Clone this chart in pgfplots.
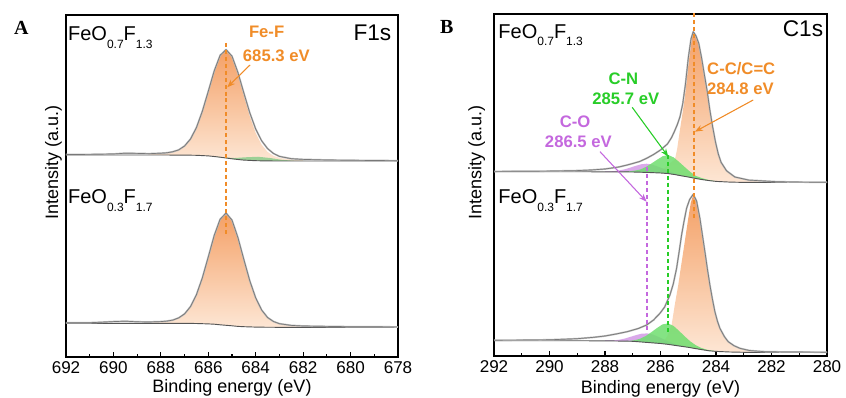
\documentclass[border=0pt]{standalone}
\usepackage{fontspec}
\setmainfont{Liberation Sans}
\newfontfamily\lserif{Liberation Serif}
\usepackage{pgfplots}
\pgfplotsset{compat=1.18}
\usetikzlibrary{arrows.meta}
\definecolor{orT}{RGB}{244,160,102}
\definecolor{orB}{RGB}{253,230,212}
\definecolor{grF}{RGB}{110,222,110}
\definecolor{grFA}{RGB}{140,205,140}
\definecolor{puF}{RGB}{214,160,232}
\definecolor{orTx}{RGB}{240,140,40}
\definecolor{grTx}{RGB}{40,205,40}
\definecolor{puTx}{RGB}{196,104,222}
\definecolor{envL}{RGB}{185,185,185}
\definecolor{envD}{RGB}{120,120,120}
\definecolor{bgL}{RGB}{85,85,85}
\newcommand{\fsz}[1]{\fontsize{#1}{#1}\selectfont}
\newcommand{\sub}[1]{\raisebox{-5.5pt}{\fsz{9}#1}}
\tikzset{lab/.style={font=\bfseries\fsz{12.5}}}
\pgfplotsset{
  xpsax/.style={scale only axis, height=256.5pt, ymin=0, ymax=342, x dir=reverse,
    xtick distance=2, minor x tick num=1, tick align=inside, xtick pos=bottom, ytick=\empty,
    axis line style={line width=0.9pt}, major tick length=4pt, minor tick length=2.5pt,
    every tick/.style={black, line width=0.8pt},
    /pgf/number format/assume math mode=true,
    ticklabel style={font=\fsz{12.8}},
    xticklabel style={inner sep=2pt, yshift=-1.5pt},
    xlabel={Binding energy (eV)}, ylabel={Intensity (a.u.)}, clip=false},
  envelope/.style={line width=1.3pt, envL, line join=round},
  fitline/.style={line width=0.5pt, envD, line join=round},
  bgline/.style={line width=0.7pt, bgL},
  dsh/.style={line width=1.2pt, dash pattern=on 3pt off 2.2pt},
  arr/.style={line width=0.8pt, -{Stealth[length=6pt,width=4.5pt]}}
}
\begin{document}
\begin{tikzpicture}
\useasboundingbox (0,0) rectangle (634.5pt,-298.5pt);
% ---------------- Panel A ----------------
\begin{axis}[xpsax, at={(49.5pt,-267.75pt)}, anchor=south west, width=249pt,
  xmin=678, xmax=692,
  every axis x label/.style={at={(axis description cs:0.5,-0.089)}, anchor=center, font=\fsz{13.5}},
  every axis y label/.style={at={(axis description cs:-0.0377,0.570)}, rotate=90, anchor=center, font=\fsz{13.5}}]
% top orange
\addplot[draw=none, top color=orT, bottom color=orB] coordinates {
(688.5,203.1) (688,203.6) (687.75,204.1) (687.5,205.1) (687.25,207.0) (687,210.9) (686.75,217.9)
(686.5,229.3) (686.25,245.7) (686,265.6) (685.75,285.9) (685.5,301.5) (685.25,307) (685,299.9)
(684.75,282.9) (684.5,261.4) (684.25,240.8) (684,223.9) (683.75,212.3) (683.5,205.1) (683.25,201.1)
(683,199.1) (682.5,197.6) (682,197.1)
(682,196) (683,196) (683.5,196.05) (684,196.3) (684.5,196.9) (684.75,197.5) (685,198.2) (685.25,199.0)
(685.5,199.8) (685.75,200.5) (686,201.1) (686.5,201.7) (687,201.9) (688,202) (688.5,202)} -- cycle;
% top green
\addplot[draw=none, fill=grFA, fill opacity=0.85] coordinates {
(685.9,201.0) (685.4,199.65) (684.9,198.97) (684.4,199.74) (683.9,200.25) (683.4,198.99) (682.9,197.17)
(682.4,196.25) (681.9,196) (682.4,196) (682.9,196) (683.4,196.05) (683.9,196.25) (684.4,196.8)
(684.9,197.8) (685.4,199.4) (685.9,201.0)} -- cycle;
% bottom orange
\addplot[draw=none, top color=orT, bottom color=orB] coordinates {
(688.5,34.8) (688,35.3) (687.75,35.8) (687.5,36.8) (687.25,39.0) (687,43.0) (686.75,50.3) (686.5,62.2)
(686.25,79.1) (686,100.0) (685.75,121.4) (685.5,137.7) (685.25,143.7) (685,136.7) (684.75,119.2)
(684.5,97.2) (684.25,75.8) (684,58.6) (683.75,46.5) (683.5,39.0) (683.25,35.0) (683,32.8) (682.5,31.3)
(682,30.8) (682,29.7) (683,29.7) (683.5,29.74) (684,29.9) (684.5,30.3) (685,31.2) (685.5,32.2)
(686,33.1) (686.5,33.5) (687,33.66) (688,33.7) (688.5,33.7)} -- cycle;
% baselines
\addplot[bgline] coordinates {(692,202) (688,202) (687,201.9) (686.5,201.7) (686,201.1) (685.75,200.5)
(685.5,199.8) (685.25,199.0) (685,198.2) (684.75,197.5) (684.5,196.9) (684,196.3) (683.5,196.05) (683,196) (678,196)};
\addplot[bgline] coordinates {(692,33.7) (688,33.7) (687,33.66) (686.5,33.5) (686,33.1) (685.75,32.8)
(685.5,32.2) (685.25,31.7) (685,31.2) (684.75,30.6) (684.5,30.3) (684,29.9) (683.5,29.74) (683,29.7) (678,29.7)};
% envelopes
\pgfplotstableread{
x y
692 202.5
691 202.6
690 203.0
689.5 203.8
689 203.6
688.5 203.3
688 203.8
687.75 204.2
687.5 205.2
687.25 207.1
687 211.0
686.75 218.0
686.5 229.4
686.25 245.8
686 265.7
685.75 286.1
685.5 301.7
685.25 307.4
685 300.8
684.75 284.5
684.5 264.0
684.25 244.2
684 227.9
683.75 216.2
683.5 208.4
683.25 203.5
683 200.6
682.5 198.3
682 197.6
681 197.0
680 196.7
679 196.5
678 196.3
}\envAt
\pgfplotstableread{
x y
692 34.2
691 34.3
690.5 34.8
690 35.4
689.5 35.8
689 35.2
688.5 35.0
688 35.4
687.75 35.9
687.5 36.9
687.25 39.1
687 43.1
686.75 50.4
686.5 62.3
686.25 79.2
686 100.1
685.75 121.5
685.5 137.8
685.25 143.9
685 136.9
684.75 119.4
684.5 97.5
684.25 76.2
684 59.1
683.75 47.0
683.5 39.5
683.25 35.5
683 33.3
682.5 31.6
682 31.0
681 30.6
680 30.3
679 30.2
678 30.1
}\envAb
\addplot[envelope] table {\envAt};
\addplot[fitline] table {\envAt};
\addplot[envelope] table {\envAb};
\addplot[fitline] table {\envAb};
% dashed + arrow
\addplot[dsh, draw=orTx] coordinates {(685.25,314) (685.25,122)};
\addplot[arr, draw=orTx, fill=orTx] coordinates {(684.24,292) (685.2,269.7)};
% texts
\node[lab, text=orTx] at (axis cs:683.54,325.3) {Fe-F};
\node[lab, text=orTx] at (axis cs:683.13,301.2) {685.3 eV};
\node[anchor=base east, font=\fsz{17}, inner sep=0pt] at (axis cs:678.27,316) {F1s};
\node[anchor=base west, font=\fsz{15}, inner sep=0pt] at (axis cs:691.92,316.3) {FeO\sub{0.7}F\sub{1.3}};
\node[anchor=base west, font=\fsz{15}, inner sep=0pt] at (axis cs:691.92,153) {FeO\sub{0.3}F\sub{1.7}};
\end{axis}
% ---------------- Panel B ----------------
\begin{axis}[xpsax, at={(370.5pt,-267pt)}, anchor=south west, width=249.75pt,
  xmin=280, xmax=292,
  every axis x label/.style={at={(axis description cs:0.5,-0.095)}, anchor=center, font=\fsz{13.5}},
  every axis y label/.style={at={(axis description cs:-0.052,0.566)}, rotate=90, anchor=center, font=\fsz{13.5}}]
% top orange
\addplot[draw=none, top color=orT, bottom color=orB] coordinates {
(286.2,183.3) (286,185) (285.8,189) (285.6,194) (285.48,196.5) (285.4,207) (285.3,226) (285.2,244)
(285.12,259.3) (285.06,275) (285,290) (284.94,302.7) (284.88,316) (284.82,324) (284.72,319.5)
(284.62,312) (284.52,297.5) (284.42,281) (284.32,264.3) (284.22,244.8) (284.12,228.2) (284.02,213.3)
(283.92,201.5) (283.82,193) (283.62,184.7) (283.32,178.6) (282.82,175.7) (282.3,174.2)
(282.3,173.55) (283,173.6) (283.5,173.9) (284,174.6) (284.25,175.4) (284.5,176.4) (284.75,177.6)
(285,179) (285.25,180.2) (285.5,181.5) (285.75,182.5) (286,183) (286.2,183.3)} -- cycle;
% top purple
\addplot[draw=none, fill=puF, fill opacity=0.9] coordinates {
(288,184.5) (287.7,184.8) (287.5,185.5) (287.3,186.6) (287.1,188.3) (286.9,190.1) (286.7,191.7)
(286.5,192.3) (286.3,191.4) (286.1,189.4) (285.9,187.3) (285.7,185.1) (285.5,182.9) (285.3,181.3)
(285.0,179) (285.25,180.2) (285.5,181.5) (285.75,182.5) (286,183) (286.5,183.6) (287,184) (288,184.2)} -- cycle;
% top green
\addplot[draw=none, fill=grF, fill opacity=0.85] coordinates {
(287.32,184.4) (287.12,184.7) (286.92,185.4) (286.72,186.6) (286.52,189.1) (286.32,192.6) (286.12,196.3)
(285.92,199.8) (285.72,201.0) (285.52,198.5) (285.32,193.8) (285.12,188.8) (284.92,183.9) (284.72,180.0)
(284.52,178.0) (284.32,176.4) (284.12,175.3) (283.9,174.4)
(284.25,175.4) (284.5,176.4) (284.75,177.6) (285,179) (285.25,180.2) (285.5,181.5) (285.75,182.5)
(286,183) (286.5,183.6) (287,184) (287.32,184.1)} -- cycle;
% bottom orange
\addplot[draw=none, top color=orT, bottom color=orB] coordinates {
(286.1,12.7) (285.9,14) (285.75,20) (285.6,31) (285.48,52) (285.36,71) (285.27,88) (285.18,104.3)
(285.09,121) (285.0,137.7) (284.91,153) (284.82,161.2) (284.7,154.5) (284.58,137.2) (284.49,120.5)
(284.4,103.8) (284.31,86.5) (284.22,70.5) (284.13,56.5) (284.04,43.8) (283.95,34.5) (283.86,27.2)
(283.7,19.0) (283.56,13.8) (283.35,9.9) (283.14,7.3) (282.8,5.2) (282.3,4.2)
(282.3,3.6) (283,3.7) (283.5,4.0) (284,4.6) (284.25,5.2) (284.5,6.3) (284.8,7.7) (285,8.7)
(285.25,9.7) (285.5,10.7) (285.75,11.7) (286,12.5) (286.1,12.7)} -- cycle;
% bottom purple
\addplot[draw=none, fill=puF, fill opacity=0.9] coordinates {
(288.0,15.5) (287.68,15.7) (287.48,16.3) (287.28,17.5) (287.08,19.2) (286.88,20.9) (286.68,22.3)
(286.48,22.6) (286.28,21.5) (286.08,19.2) (285.88,16.6) (285.68,14.1) (285.48,12.0) (285.28,10.5)
(285.0,8.7) (285.25,9.7) (285.5,10.7) (285.75,11.7) (286,12.5) (286.5,13.6) (287,14.7) (288,15.2)} -- cycle;
% bottom green
\addplot[draw=none, fill=grF, fill opacity=0.85] coordinates {
(287.33,14.9) (287.13,15.1) (286.93,15.8) (286.73,17.3) (286.53,20.0) (286.33,23.8) (286.13,27.9)
(285.93,31.6) (285.73,32.6) (285.53,30.1) (285.33,25.1) (285.13,19.7) (284.93,14.7) (284.73,10.8)
(284.53,8.1) (284.33,6.3) (284.13,5.3) (283.9,4.5)
(284.25,5.2) (284.5,6.3) (284.8,7.7) (285,8.7) (285.25,9.7) (285.5,10.7) (285.75,11.7) (286,12.5)
(286.5,13.6) (287,14.7) (287.33,14.9)} -- cycle;
% baselines
\addplot[bgline] coordinates {(292,184.3) (288,184.2) (287,184) (286.5,183.6) (286,183) (285.75,182.5)
(285.5,181.5) (285.25,180.2) (285,179) (284.75,177.6) (284.5,176.4) (284.25,175.4) (284,174.6)
(283.5,173.9) (283,173.6) (280,173.5)};
\addplot[bgline] coordinates {(292,15.3) (288,15.2) (287,14.7) (286.5,13.6) (286,12.5) (285.75,11.7)
(285.5,10.7) (285.25,9.7) (285,8.7) (284.8,7.7) (284.5,6.3) (284.25,5.2) (284,4.6) (283.5,4.0)
(283,3.7) (280,3.5)};
% envelopes
\pgfplotstableread{
x y
292 184.6
291 184.7
290 184.9
289 185.4
288.5 186
288 187
287.5 189
287.2 191
287 192.5
286.75 194.5
286.5 197.7
286.25 201.5
286 206
285.75 212
285.6 218.5
285.5 224.5
285.4 231
285.3 239
285.2 252
285.1 272
285 297.7
284.9 317.2
284.82 324.3
284.72 320
284.62 312.5
284.52 298.2
284.42 281.6
284.32 265.1
284.22 245.7
284.12 229.1
284.02 214.2
283.92 202.3
283.82 193.8
283.62 185.2
283.32 179
282.82 175.9
281.82 174.3
281 173.9
280 173.7
}\envBt
\pgfplotstableread{
x y
292 15.8
291 15.9
290 16.2
289 17.3
288.4 18.7
288 20
287.6 22
287.2 24.3
286.8 27.5
286.5 31
286.25 36
286.02 42.7
285.85 49
285.66 61
285.54 72
285.42 87.7
285.33 104
285.24 121
285.15 135
285.06 147.7
284.95 156.5
284.82 161.7
284.7 155
284.58 137.7
284.49 121
284.4 104.3
284.31 87
284.22 71
284.13 57
284.04 44.3
283.95 35
283.86 27.7
283.7 19.5
283.56 14.3
283.35 10.3
283.14 7.7
282.8 5.5
282.3 4.4
281.5 4.0
280 3.8
}\envBb
\addplot[envelope] table {\envBt};
\addplot[fitline] table {\envBt};
\addplot[envelope] table {\envBb};
\addplot[fitline] table {\envBb};
% dashed
\addplot[dsh, draw=orTx] coordinates {(284.8,343) (284.8,136)};
\addplot[dsh, draw=grTx] coordinates {(285.72,201) (285.72,24)};
\addplot[dsh, draw=puTx, line width=1.35pt] coordinates {(286.48,189) (286.48,23)};
% arrows
\addplot[arr, draw=orTx, fill=orTx] coordinates {(282.66,256) (284.76,224.3)};
\addplot[arr, draw=grTx, fill=grTx] coordinates {(287.02,248.7) (285.72,199.3)};
\addplot[arr, draw=puTx, fill=puTx] coordinates {(288.18,204.3) (286.5,154.3)};
% texts
\node[lab, text=orTx] at (axis cs:283.09,287.7) {C-C/C=C};
\node[lab, text=orTx] at (axis cs:283.12,267.7) {284.8 eV};
\node[lab, text=grTx] at (axis cs:287.34,277.7) {C-N};
\node[lab, text=grTx] at (axis cs:287.25,257.7) {285.7 eV};
\node[lab, text=puTx] at (axis cs:289.08,234.3) {C-O};
\node[lab, text=puTx] at (axis cs:288.96,214.3) {286.5 eV};
\node[anchor=base east, font=\fsz{17}, inner sep=0pt] at (axis cs:280.13,319.3) {C1s};
\node[anchor=base west, font=\fsz{15}, inner sep=0pt] at (axis cs:291.85,317.7) {FeO\sub{0.7}F\sub{1.3}};
\node[anchor=base west, font=\fsz{15}, inner sep=0pt] at (axis cs:291.85,152) {FeO\sub{0.3}F\sub{1.7}};
\end{axis}
\node[font=\lserif\bfseries\fsz{15}] at (16.1pt,-20.6pt) {A};
\node[font=\lserif\bfseries\fsz{15}] at (335pt,-20pt) {B};
\end{tikzpicture}
\end{document}
